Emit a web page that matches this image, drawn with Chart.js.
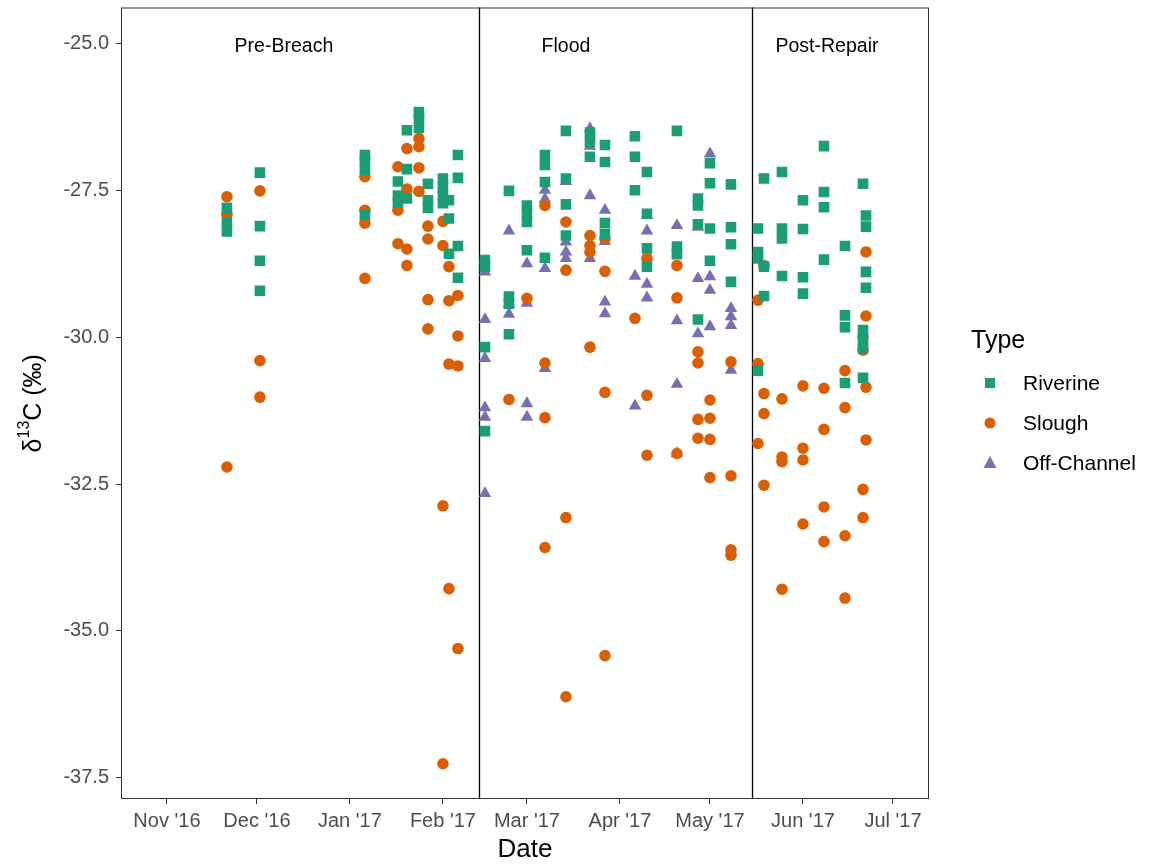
<!DOCTYPE html>
<html>
<head>
<meta charset="utf-8">
<script src="https://cdn.jsdelivr.net/npm/chart.js@4.4.1/dist/chart.umd.min.js"></script>
<style>
  body { margin: 0; background: #fff; }
  canvas { display: block; }
</style>
</head>
<body>
<canvas id="myChart" width="1155" height="867"></canvas>
<script>
const FONT = '"Liberation Sans", Arial, Helvetica, sans-serif';

// sampling dates, one entry per column of points
const samplingDates = [
  '2016-11-21', '2016-12-02', '2017-01-06', '2017-01-17', '2017-01-20', '2017-01-24',
  '2017-01-27', '2017-02-01', '2017-02-03', '2017-02-06', '2017-02-15', '2017-02-23',
  '2017-03-01', '2017-03-07', '2017-03-14', '2017-03-22', '2017-03-27', '2017-04-06',
  '2017-04-10', '2017-04-20', '2017-04-27', '2017-05-01', '2017-05-08', '2017-05-17',
  '2017-05-19', '2017-05-25', '2017-06-01', '2017-06-08', '2017-06-15', '2017-06-21',
  '2017-06-22'
];

// d13C values per sampling date
const riverine = [
  [-27.8, -28.05, -28.2], [-27.2, -28.11, -28.7, -29.21], [-26.9, -27.0, -27.15, -27.92],
  [-27.35, -27.59, -27.71], [-26.48, -27.14, -27.64], [-26.17, -26.28, -26.44],
  [-27.39, -27.67, -27.8], [-27.3, -27.45, -27.6, -27.72], [-27.67, -27.98, -28.58],
  [-26.9, -27.29, -28.45, -28.99], [-28.69, -28.8, -30.17, -31.6], [-27.51, -29.31, -29.43, -29.95],
  [-27.76, -27.9, -28.04, -28.52], [-26.9, -27.07, -27.36, -28.65], [-26.49, -27.3, -27.74, -28.27],
  [-26.52, -26.68, -26.93], [-26.73, -27.02, -28.06, -28.25], [-26.58, -26.93, -27.5],
  [-27.19, -27.9, -28.49, -28.8], [-26.49, -28.46, -28.59], [-27.64, -27.76, -28.08, -29.7],
  [-27.04, -27.38, -28.15, -28.7], [-27.4, -28.13, -28.42, -29.06], [-28.15, -28.55, -28.66, -30.57],
  [-27.3, -28.8, -29.3], [-27.19, -28.15, -28.32, -28.96], [-27.67, -28.16, -28.98, -29.26],
  [-26.75, -27.53, -27.79, -28.68], [-28.45, -29.63, -29.83, -30.78], [-27.39, -29.88, -30.05, -30.19, -30.69],
  [-27.93, -28.12, -28.89, -29.16]
];
const slough = [
  [-27.61, -27.91, -32.21], [-27.51, -30.4, -31.02], [-27.27, -27.84, -28.06, -29.0],
  [-27.1, -27.84, -28.41], [-26.79, -27.48, -28.5, -28.78], [-26.62, -26.76, -27.12, -27.52],
  [-28.11, -28.33, -29.36, -29.86], [-28.03, -28.44, -32.87, -37.26], [-28.8, -29.38, -30.46, -34.28],
  [-29.29, -29.98, -30.49, -35.3], [], [-31.06],
  [-29.34], [-27.76, -30.44, -31.37, -33.58], [-28.04, -28.86, -33.07, -36.12],
  [-28.27, -28.44, -28.55, -30.17], [-28.32, -28.88, -30.94, -35.42], [-29.68],
  [-28.66, -30.99, -32.01], [-28.78, -29.33, -31.98], [-30.25, -30.44, -31.4, -31.72],
  [-31.07, -31.38, -31.74, -32.39], [-30.42, -32.36, -33.62, -33.71], [-29.37, -30.45, -31.81],
  [-28.78, -30.96, -31.3, -32.52], [-31.05, -32.04, -32.12, -34.29], [-30.83, -31.89, -32.09, -33.18],
  [-30.87, -31.57, -32.89, -33.48], [-30.57, -31.2, -33.38, -34.44], [-29.99, -30.22, -32.59, -33.07],
  [-28.55, -29.64, -30.85, -31.75]
];
const offChannel = [
  [], [], [], [], [], [], [], [], [], [],
  [-28.89, -29.7, -30.36, -31.2, -31.36, -32.66], [-28.19, -29.43, -29.61],
  [-28.75, -29.42, -31.13, -31.36], [-27.5, -27.65, -28.83, -30.53], [-27.35, -28.38, -28.55, -28.66],
  [-26.45, -26.75, -27.59, -28.66], [-27.84, -28.37, -29.4, -29.6], [-28.96, -31.17],
  [-27.93, -28.19, -29.1, -29.33], [-28.1, -29.72, -30.8, -31.98], [-28.13, -29.0, -29.94],
  [-26.88, -28.97, -29.2, -29.82], [-29.51, -29.65, -29.8, -30.56],
  [], [], [], [], [], [], [], []
];

const typeNames = ['Riverine', 'Slough', 'Off-Channel'];
const typeColors = ['#1b9e77', '#d95f02', '#7570b3'];
const typeShapes = ['rect', 'circle', 'triangle'];

const monthDates = ['2016-11-01', '2016-12-01', '2017-01-01', '2017-02-01', '2017-03-01',
  '2017-04-01', '2017-05-01', '2017-06-01', '2017-07-01'];
const monthLabels = ["Nov '16", "Dec '16", "Jan '17", "Feb '17", "Mar '17", "Apr '17", "May '17", "Jun '17", "Jul '17"];
const yTicks = [-25.0, -27.5, -30.0, -32.5, -35.0, -37.5];

const breachDates = ['2017-02-13', '2017-05-15'];
const phaseLabels = ['Pre-Breach', 'Flood', 'Post-Repair'];
const phaseLabelDates = ['2016-12-10', '2017-03-14', '2017-06-09'];
const phaseLabelY = -25.05;

// days since 1 Nov 2016
const dayOf = s => {
  const [y, m, d] = s.split('-').map(Number);
  return (Date.UTC(y, m - 1, d) - Date.UTC(2016, 10, 1)) / 86400000;
};

const toPoints = series => {
  const pts = [];
  series.forEach((vals, i) => vals.forEach(v => pts.push({ x: dayOf(samplingDates[i]), y: v })));
  return pts;
};

const seriesData = [riverine, slough, offChannel];
const radii = [7.5, 5.8, 7.2];

const decor = {
  id: 'decor',
  beforeDatasetsDraw(chart) {
    const { ctx, chartArea: a, scales: { x } } = chart;
    ctx.save();
    ctx.strokeStyle = '#000';
    ctx.lineWidth = 1.3;
    breachDates.forEach(d => {
      const px = Math.round(x.getPixelForValue(dayOf(d))) + 0.5;
      ctx.beginPath();
      ctx.moveTo(px, a.top);
      ctx.lineTo(px, a.bottom);
      ctx.stroke();
    });
    ctx.restore();
  },
  afterDraw(chart) {
    const { ctx, chartArea: a, scales: { x, y } } = chart;
    ctx.save();
    // panel border
    ctx.strokeStyle = '#333';
    ctx.lineWidth = 1;
    ctx.strokeRect(a.left + 0.5, a.top + 0.5, a.right - a.left - 1, a.bottom - a.top - 1);

    // phase labels
    ctx.fillStyle = '#000';
    ctx.font = '19.5px ' + FONT;
    ctx.textAlign = 'center';
    ctx.textBaseline = 'middle';
    phaseLabels.forEach((t, i) => {
      ctx.fillText(t, x.getPixelForValue(dayOf(phaseLabelDates[i])), y.getPixelForValue(phaseLabelY));
    });

    // x title
    ctx.font = '26px ' + FONT;
    ctx.fillText('Date', (a.left + a.right) / 2, 850);

    // y title with superscript
    ctx.translate(32, (a.top + a.bottom) / 2);
    ctx.rotate(-Math.PI / 2);
    const big = '25px ' + FONT, small = '16px ' + FONT;
    ctx.textAlign = 'left';
    ctx.textBaseline = 'alphabetic';
    ctx.font = big; const w1 = ctx.measureText('\u03b4').width;
    ctx.font = small; const w2 = ctx.measureText('13').width;
    ctx.font = big; const w3 = ctx.measureText('C (\u2030)').width;
    let cx = -(w1 + w2 + w3) / 2;
    ctx.font = big; ctx.fillText('\u03b4', cx, 9); cx += w1;
    ctx.font = small; ctx.fillText('13', cx, -3); cx += w2;
    ctx.font = big; ctx.fillText('C (\u2030)', cx, 9);
    ctx.setTransform(1, 0, 0, 1, 0, 0);

    // legend
    ctx.fillStyle = '#000';
    ctx.font = '25px ' + FONT;
    ctx.textAlign = 'left';
    ctx.textBaseline = 'middle';
    ctx.fillText('Type', 971, 341);
    ctx.font = '21px ' + FONT;
    typeNames.forEach((name, i) => {
      const cy = 383 + i * 40;
      const mx = 990;
      ctx.fillStyle = typeColors[i];
      ctx.beginPath();
      if (typeShapes[i] === 'rect') {
        ctx.rect(mx - 5, cy - 5, 10, 10);
      } else if (typeShapes[i] === 'circle') {
        ctx.arc(mx, cy, 5.5, 0, Math.PI * 2);
      } else {
        ctx.moveTo(mx, cy - 7);
        ctx.lineTo(mx + 6.5, cy + 5);
        ctx.lineTo(mx - 6.5, cy + 5);
        ctx.closePath();
      }
      ctx.fill();
      ctx.fillStyle = '#000';
      ctx.fillText(name, 1023, cy + 1);
    });
    ctx.restore();
  }
};

const ctx = document.getElementById('myChart');

const myChart = new Chart(ctx, {
  type: 'scatter',
  data: {
    datasets: typeNames.map((name, i) => ({
      label: name,
      data: toPoints(seriesData[i]),
      backgroundColor: typeColors[i],
      borderColor: typeColors[i],
      borderWidth: 0,
      pointStyle: typeShapes[i],
      pointRadius: radii[i],
      pointHoverRadius: radii[i]
    }))
  },
  options: {
    responsive: false,
    animation: false,
    events: [],
    layout: { padding: { left: 0, top: 7, right: 226, bottom: 0 } },
    plugins: {
      legend: { display: false },
      tooltip: { enabled: false }
    },
    scales: {
      x: {
        type: 'linear',
        min: -15.3,
        max: 254,
        afterBuildTicks: s => { s.ticks = monthDates.map(d => ({ value: dayOf(d) })); },
        afterFit: s => { s.height = 68; s.paddingLeft = 0; s.paddingRight = 0; },
        ticks: {
          autoSkip: false,
          maxRotation: 0,
          callback: (v, i) => monthLabels[i],
          color: '#4d4d4d',
          font: { size: 20, family: FONT },
          padding: 5
        },
        grid: { drawOnChartArea: false, tickLength: 5, color: '#333' },
        border: { display: false }
      },
      y: {
        min: -37.86,
        max: -24.39,
        afterBuildTicks: s => { s.ticks = yTicks.map(v => ({ value: v })); },
        afterFit: s => { s.width = 121; s.paddingTop = 0; s.paddingBottom = 0; },
        ticks: {
          callback: v => v.toFixed(1),
          color: '#4d4d4d',
          font: { size: 20, family: FONT },
          padding: 7
        },
        grid: { drawOnChartArea: false, tickLength: 5, color: '#333' },
        border: { display: false }
      }
    }
  },
  plugins: [decor]
});
</script>
</body>
</html>
